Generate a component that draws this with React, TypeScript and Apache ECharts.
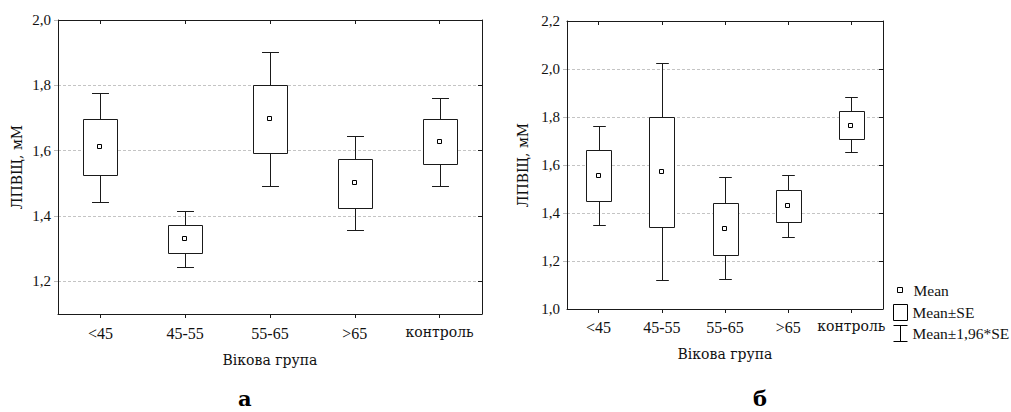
import React, { useEffect, useRef } from 'react';
import * as echarts from 'echarts';

const categories = ['<45', '45-55', '55-65', '>65', 'контроль'];

// Chart "а"
const meanA = [1.611, 1.330, 1.698, 1.501, 1.627];
const seLowA = [1.527, 1.287, 1.593, 1.426, 1.558];
const seHighA = [1.698, 1.373, 1.802, 1.573, 1.697];
const ciLowA = [1.443, 1.244, 1.493, 1.357, 1.491];
const ciHighA = [1.778, 1.416, 1.902, 1.644, 1.761];
const ticksA = [1.2, 1.4, 1.6, 1.8, 2.0];
const rangeA = [1.1, 2.0];

// Chart "б"
const meanB = [1.556, 1.570, 1.333, 1.431, 1.764];
const seLowB = [1.452, 1.340, 1.227, 1.361, 1.710];
const seHighB = [1.661, 1.802, 1.443, 1.495, 1.827];
const ciLowB = [1.352, 1.121, 1.124, 1.299, 1.653];
const ciHighB = [1.762, 2.024, 1.548, 1.560, 1.882];
const ticksB = [1.0, 1.2, 1.4, 1.6, 1.8, 2.0, 2.2];
const gridTicksB = [1.2, 1.4, 1.6, 1.8, 2.0];
const rangeB = [1.0, 2.2];

const LAT = 'Liberation Serif';
const CYR = 'DejaVu Serif';
const TXT = '#111';
const LINE = '#1a1a1a';

const fmt = (v: number) => v.toFixed(1).replace('.', ',');
const crisp = (v: number) => Math.round(v) + 0.5;

function whiskerRender(params: any, api: any) {
  const x = api.value(0);
  const lo = api.coord([x, api.value(1)]);
  const hi = api.coord([x, api.value(2)]);
  const band = api.size([1, 0])[0];
  const cx = crisp(lo[0]);
  const half = band * 0.1;
  const yl = crisp(lo[1]);
  const yh = crisp(hi[1]);
  const style = { stroke: LINE, lineWidth: 1 };
  return {
    type: 'group',
    children: [
      { type: 'line', shape: { x1: cx, y1: yh, x2: cx, y2: yl }, style },
      { type: 'line', shape: { x1: cx - half, y1: yh, x2: cx + half, y2: yh }, style },
      { type: 'line', shape: { x1: cx - half, y1: yl, x2: cx + half, y2: yl }, style },
    ],
  };
}

function boxRender(params: any, api: any) {
  const x = api.value(0);
  const lo = api.coord([x, api.value(1)]);
  const hi = api.coord([x, api.value(2)]);
  const band = api.size([1, 0])[0];
  const w = Math.round(band * 0.4);
  const left = crisp(lo[0] - w / 2);
  const top = crisp(hi[1]);
  const bottom = crisp(lo[1]);
  return {
    type: 'rect',
    shape: { x: left, y: top, width: w, height: bottom - top },
    style: { fill: '#fff', stroke: LINE, lineWidth: 1 },
  };
}

function meanRender(params: any, api: any) {
  const p = api.coord([api.value(0), api.value(1)]);
  const cx = Math.round(p[0]);
  const cy = Math.round(p[1]);
  return {
    type: 'rect',
    shape: { x: cx - 2.5, y: cy - 2.5, width: 4, height: 4 },
    style: { fill: '#fff', stroke: '#000', lineWidth: 1 },
  };
}

function makeSeries(g: number, mean: number[], seLow: number[], seHigh: number[], ciLow: number[], ciHigh: number[]) {
  const common = { type: 'custom', xAxisIndex: g * 2, yAxisIndex: g * 2, coordinateSystem: 'cartesian2d', clip: false };
  return [
    {
      ...common,
      name: 'Mean±1,96*SE',
      renderItem: whiskerRender,
      encode: { x: 0, y: [1, 2] },
      data: categories.map((_, i) => [i, ciLow[i], ciHigh[i]]),
      z: 2,
    },
    {
      ...common,
      name: 'Mean±SE',
      renderItem: boxRender,
      encode: { x: 0, y: [1, 2] },
      data: categories.map((_, i) => [i, seLow[i], seHigh[i]]),
      z: 3,
    },
    {
      ...common,
      name: 'Mean',
      renderItem: meanRender,
      encode: { x: 0, y: 1 },
      data: categories.map((_, i) => [i, mean[i]]),
      z: 4,
    },
  ];
}

const catFormatter = (v: string) => (/[а-яіА-ЯІ]/.test(v) ? `{c|${v}}` : v);

function xAxes(g: number, nameGap: number, labelMargin: number) {
  return [
    {
      type: 'category',
      gridIndex: g,
      position: 'bottom',
      data: categories,
      boundaryGap: true,
      axisLine: { show: true, onZero: false, lineStyle: { color: LINE, width: 1 } },
      axisTick: { show: true, alignWithLabel: true, interval: 0, length: 4, inside: false, lineStyle: { color: LINE } },
      axisLabel: {
        interval: 0, hideOverlap: false, fontFamily: LAT, fontSize: 16, color: TXT, margin: labelMargin,
        formatter: catFormatter,
        rich: { c: { fontFamily: CYR, fontSize: 14, color: TXT } },
      },
      name: 'Вікова група',
      nameLocation: 'middle',
      nameGap,
      nameTextStyle: { fontFamily: CYR, fontSize: 14, color: TXT },
      splitLine: { show: false },
    },
    {
      type: 'category',
      gridIndex: g,
      position: 'top',
      data: categories,
      boundaryGap: true,
      axisLine: { show: true, onZero: false, lineStyle: { color: LINE, width: 1 } },
      axisTick: { show: true, alignWithLabel: true, interval: 0, length: 4, inside: true, lineStyle: { color: LINE } },
      axisLabel: { show: false, interval: 0 },
      splitLine: { show: false },
    },
  ];
}

function yAxes(g: number, range: number[], labels: number[], gridTicks: number[], nameGap: number) {
  return [
    {
      type: 'value',
      gridIndex: g,
      position: 'left',
      min: range[0],
      max: range[1],
      axisLine: { show: true, onZero: false, lineStyle: { color: LINE, width: 1 } },
      axisTick: { show: true, inside: false, length: 5, customValues: gridTicks, lineStyle: { color: '#bbb', type: 'dashed' } },
      axisLabel: { customValues: labels, formatter: (v: number) => fmt(v), fontFamily: LAT, fontSize: 15, color: TXT, margin: 7 },
      splitLine: { show: true, lineStyle: { color: '#c4c4c4', type: [3, 2], width: 1 } },
      name: 'ЛПВЩ, мМ',
      nameLocation: 'middle',
      nameRotate: 90,
      nameGap,
      nameTextStyle: { fontFamily: CYR, fontSize: 14, color: TXT },
    },
    {
      type: 'value',
      gridIndex: g,
      position: 'right',
      min: range[0],
      max: range[1],
      axisLine: { show: true, onZero: false, lineStyle: { color: LINE, width: 1 } },
      axisTick: { show: true, inside: true, length: 4, customValues: gridTicks, lineStyle: { color: LINE } },
      axisLabel: { show: false },
      splitLine: { show: false },
    },
  ];
}

const legendText = { fontFamily: LAT, fontSize: 15.5, color: TXT };
const panelTitle = { fontFamily: CYR, fontSize: 21, lineHeight: 21, fontWeight: 'bold', color: '#000' };

const option: any = {
  animation: false,
  backgroundColor: '#fff',
  title: [
    { text: 'а', left: 238, top: 388, padding: 0, textStyle: panelTitle },
    { text: 'б', left: 753, top: 388, padding: 0, textStyle: panelTitle },
  ],
  grid: [
    { left: 58, top: 20, width: 424, height: 294 },
    { left: 567, top: 21, width: 316, height: 288 },
  ],
  xAxis: [...xAxes(0, 39, 11), ...xAxes(1, 38, 10)],
  yAxis: [...yAxes(0, rangeA, ticksA, ticksA, 34), ...yAxes(1, rangeB, ticksB, gridTicksB, 37)],
  legend: [
    {
      left: 897, top: 282, padding: 0, selectedMode: false, itemWidth: 5, itemHeight: 5,
      textStyle: { ...legendText, padding: [0, 0, 0, 6] },
      data: [{ name: 'Mean', icon: 'rect', itemStyle: { color: '#fff', borderColor: '#000', borderWidth: 1 } }],
    },
    {
      left: 893, top: 304, padding: 0, selectedMode: false, itemWidth: 14, itemHeight: 16,
      textStyle: legendText,
      data: [{ name: 'Mean±SE', icon: 'rect', itemStyle: { color: '#fff', borderColor: '#000', borderWidth: 1 } }],
    },
    {
      left: 893, top: 325, padding: 0, selectedMode: false, itemWidth: 14, itemHeight: 16,
      textStyle: legendText,
      data: [{ name: 'Mean±1,96*SE', icon: 'path://M0,0L14,0M7,0L7,16M0,16L14,16', itemStyle: { color: 'rgba(0,0,0,0)', borderColor: '#000', borderWidth: 1 } }],
    },
  ],
  series: [
    ...makeSeries(0, meanA, seLowA, seHighA, ciLowA, ciHighA),
    ...makeSeries(1, meanB, seLowB, seHighB, ciLowB, ciHighB),
  ],
};

export default function App() {
  const ref = useRef<HTMLDivElement>(null);
  useEffect(() => {
    const chart = echarts.init(ref.current as HTMLDivElement, null, { renderer: 'svg' });
    chart.setOption(option);
    return () => chart.dispose();
  }, []);
  return <div ref={ref} style={{ position: 'absolute', left: 0, top: 0, width: 1011, height: 412 }} />;
}
